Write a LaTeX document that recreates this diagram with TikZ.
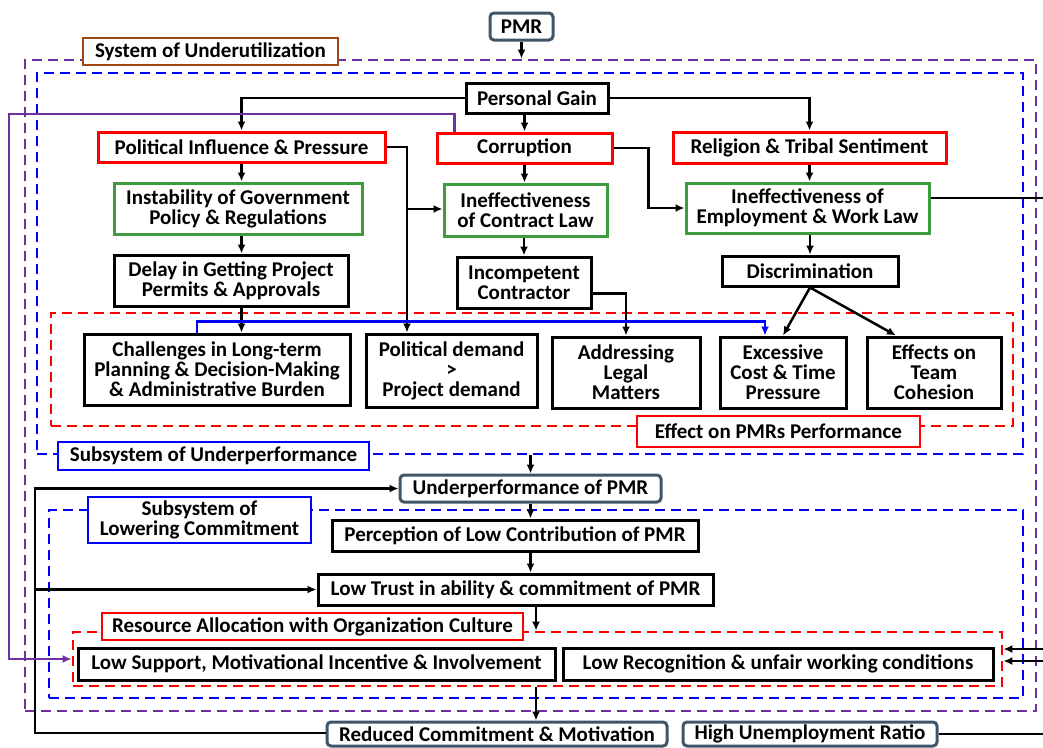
\documentclass[tikz,border=0pt]{standalone}
\usepackage{fontspec}
\setmainfont{Carlito}
\usetikzlibrary{arrows.meta,calc}
\definecolor{purp}{RGB}{112,48,160}
\definecolor{grn}{RGB}{62,155,62}
\definecolor{slate}{RGB}{65,85,105}
\definecolor{brwn}{RGB}{160,72,20}
\tikzset{
 bx/.style={draw, line width=3pt, fill=white, inner sep=0pt, align=center, font=\bfseries\fontsize{21}{20}\selectfont},
 rbox/.style={bx, draw=red},
 gbox/.style={bx, draw=grn},
 kbox/.style={bx, draw=black},
 sbox/.style={bx, draw=slate, rounded corners=4pt},
 tbox/.style={bx, line width=2.8pt},
 frame/.style={draw, line width=2.8pt, dash pattern=on 10pt off 6pt, inner sep=0pt},
 arr/.style={-{Latex[length=9pt,width=8pt]}, line width=2.5pt},
}
\newcommand{\pbox}[7]{\node[#1, minimum width={(#5-#3)*1pt}, minimum height={(#6-#4)*1pt}] (#2) at ({(#3+#5)/2},{(#4+#6)/2}) {#7};}
\begin{document}
\begin{tikzpicture}[x=1pt,y=-1pt]
\useasboundingbox (0,0) rectangle (1043,747);
% frames
\pbox{frame, draw=purp}{sysU}{25}{60}{1036}{711}{}
\pbox{frame, draw=blue}{subU}{37}{73}{1023}{454}{}
\pbox{frame, draw=red}{effG}{51}{313}{1013}{426}{}
\pbox{frame, draw=blue}{subL}{49}{510}{1023}{698}{}
\pbox{frame, draw=red}{resG}{73}{632}{1002}{686}{}
% frame titles
\pbox{tbox, draw=brwn}{sysT}{83}{38}{338}{65}{System of Underutilization}
\pbox{tbox, draw=blue}{subUT}{58}{442}{369}{470}{Subsystem of Underperformance}
\pbox{tbox, draw=red}{effT}{637}{416}{920}{447}{Effect on PMRs Performance}
\pbox{tbox, draw=blue}{subLT}{88}{497}{311}{543}{Subsystem of\\Lowering Commitment}
\pbox{tbox, draw=red}{resT}{102}{613}{523}{640}{Resource Allocation with Organization Culture}
% nodes
\pbox{sbox}{pmr}{490}{13}{553}{40}{PMR}
\pbox{kbox}{pg}{466}{83}{608}{113}{Personal Gain}
\pbox{rbox}{pip}{98}{132}{385}{162}{Political Influence \& Pressure}
\pbox{rbox}{cor}{437}{133}{612}{163}{Corruption}
\pbox{rbox}{rel}{673}{132}{946}{163}{Religion \& Tribal Sentiment}
\pbox{gbox}{inst}{114}{183}{362}{234}{Instability of Government\\Policy \& Regulations}
\pbox{gbox}{con}{444}{184}{607}{236}{Ineffectiveness\\of Contract Law}
\pbox{gbox}{emp}{686}{183}{929}{233}{Ineffectiveness of\\Employment \& Work Law}
\pbox{kbox}{delay}{114}{255}{348}{306}{Delay in Getting Project\\Permits \& Approvals}
\pbox{kbox}{inc}{457}{257}{591}{308}{Incompetent\\Contractor}
\pbox{kbox}{disc}{722}{256}{898}{286}{Discrimination}
\pbox{kbox}{chal}{84}{334}{350}{405}{Challenges in Long-term\\Planning \& Decision-Making\\\& Administrative Burden}
\pbox{kbox}{pd}{366}{334}{537}{407}{Political demand\\>\\Project demand}
\pbox{kbox}{addr}{552}{337}{700}{408}{Addressing\\Legal\\Matters}
\pbox{kbox}{exc}{720}{337}{846}{408}{Excessive\\Cost \& Time\\Pressure}
\pbox{kbox}{eff}{867}{337}{1001}{408}{Effects on\\Team\\Cohesion}
\pbox{sbox}{upf}{400}{475}{661}{502}{Underperformance of PMR}
\pbox{kbox}{perc}{332}{520}{698}{551}{Perception of Low Contribution of PMR}
\pbox{kbox}{lt}{318}{574}{713}{605}{Low Trust in ability \& commitment of PMR}
\pbox{kbox}{lowsup}{78}{648}{555}{680}{Low Support, Motivational Incentive \& Involvement}
\pbox{kbox}{lowrec}{563}{648}{993}{680}{Low Recognition \& unfair working conditions}
\pbox{sbox}{redc}{327}{722}{667}{746}{Reduced Commitment \& Motivation}
\pbox{sbox}{hur}{683}{722}{937}{746}{High Unemployment Ratio}
% helper coordinates
\coordinate (pj) at (407,209);
\coordinate (cx) at (536,0);
\coordinate (lx) at (35,0);
% connectors
\draw[arr] (pmr.south) -- (pmr.south |- sysU.north);
\draw[arr] (pg.west) -| (pip.north);
\draw[arr] (pg.east) -| (rel.north);
\draw[arr] (cor.north |- pg.south) -- (cor.north);
\draw[arr] (cor.south) -- (cor.south |- con.north);
\draw[arr] (pip.south) -- (pip.south |- inst.north);
\draw[arr] (pip.south |- inst.south) -- (pip.south |- delay.north);
\draw[arr] (pip.south |- delay.south) -- (pip.south |- chal.north);
\draw[arr] (rel.south) -- (rel.south |- emp.north);
\draw[arr] (disc.north |- emp.south) -- (disc.north);
\draw[arr] (inc.north |- con.south) -- (inc.north);
\draw[arr] (pip.east) -| (pj |- pd.north);
\draw[arr] (pj) -- (pj -| con.west);
\draw[arr] (cor.east) -| ($(emp.west)+(-36,0)$) -- (emp.west);
\draw[arr] ($(inc.east)+(0,11)$) -| (addr.north);
\draw[arr] (disc.south) -- (exc.north);
\draw[arr] (disc.south) -- ($(eff.north)+(-38,0)$);
\draw[arr, draw=blue] ($(chal.north)+(-20,0)$) -- ++(0,-11) -| ($(exc.north)+(-18,0)$);
\draw[arr] (upf.north |- subU.south) -- (upf.north);
\draw[arr] (upf.south) -- (upf.south |- perc.north);
\draw[arr] (upf.south |- perc.south) -- (upf.south |- lt.north);
\draw[arr] (cx |- lt.south) -- (cx |- resG.north);
\draw[arr] (cx |- resG.south) -- (cx |- redc.north);
\draw[arr] ($(redc.west)+(0,-1)$) -| (lx |- upf.west) -- (upf.west);
\draw[arr] (lx |- lt.west) -- (lt.west);
\draw[arr, draw=purp] ($(cor.north west)+(19,0)$) |- (9,114) |- (resG.west);
\draw[arr] ($(emp.east)+(0,-10)$) -- ++(140,0) |- ($(resG.east)+(0,-10)$);
\draw[arr] (hur.east) -- ++(120,0) |- ($(resG.east)+(0,2)$);
\end{tikzpicture}
\end{document}
